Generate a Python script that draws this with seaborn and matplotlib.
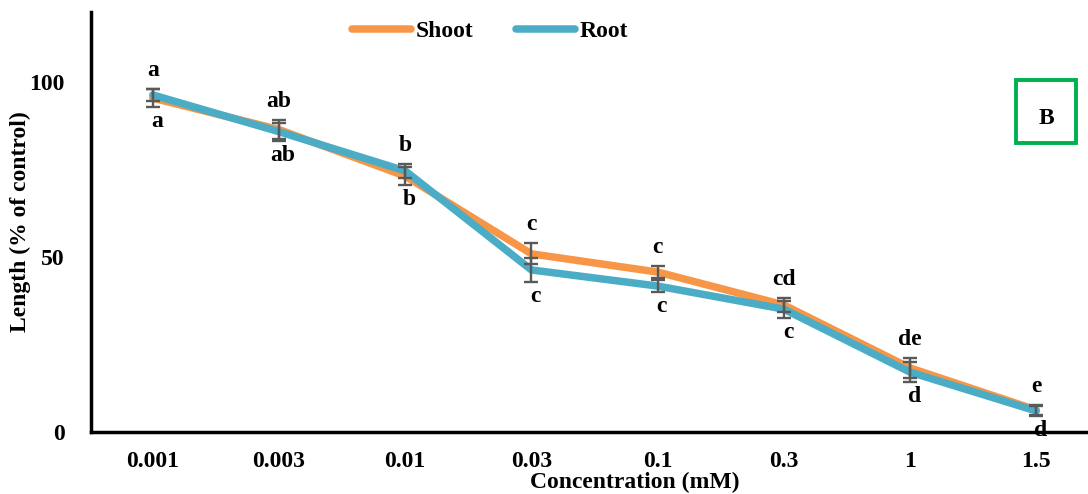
import matplotlib
matplotlib.use("Agg")
import matplotlib.pyplot as plt
import seaborn as sns
import pandas as pd
from matplotlib.patches import Rectangle

# Concentrations (mM) and relative lengths (% of control)
concentrations = ["0.001", "0.003", "0.01", "0.03", "0.1", "0.3", "1", "1.5"]
shoot = [95.4, 86.4, 73.1, 50.9, 45.7, 36.3, 18.3, 6.3]
root = [96.3, 85.8, 74.6, 46.3, 41.7, 35.1, 17.1, 6.0]
shoot_err = [2.6, 2.7, 2.6, 3.0, 1.7, 2.0, 2.8, 1.4]
root_err = [1.6, 2.6, 2.0, 3.5, 1.6, 2.4, 2.8, 1.4]
shoot_letters = ["a", "ab", "b", "c", "c", "cd", "de", "e"]
root_letters = ["a", "ab", "b", "c", "c", "c", "d", "d"]

sns.set_theme(style="white")
plt.rcParams["font.family"] = ["Liberation Serif", "DejaVu Serif"]
plt.rcParams["font.weight"] = "bold"
plt.rcParams["text.color"] = "black"
plt.rcParams["axes.labelcolor"] = "black"
plt.rcParams["xtick.color"] = "black"
plt.rcParams["ytick.color"] = "black"

df = pd.DataFrame({
    "Concentration": concentrations * 2,
    "Length": shoot + root,
    "Part": ["Shoot"] * len(shoot) + ["Root"] * len(root),
})

fig = plt.figure(figsize=(10.88, 4.94), dpi=100)
ax = fig.add_axes([91 / 1088, 62 / 494, 1 - 91 / 1088, 420 / 494])

palette = {"Shoot": "#F79646", "Root": "#4BACC6"}
sns.lineplot(data=df, x="Concentration", y="Length", hue="Part", palette=palette,
             linewidth=5.4, ax=ax, sort=False, legend=True,
             solid_capstyle="round", solid_joinstyle="round")

xs = list(range(len(concentrations)))
ax.errorbar(xs, shoot, yerr=shoot_err, fmt="none", ecolor="#595959",
            elinewidth=1.7, capsize=5, capthick=1.7, zorder=5)
ax.errorbar(xs, root, yerr=root_err, fmt="none", ecolor="#595959",
            elinewidth=1.7, capsize=5, capthick=1.7, zorder=5)

# Significance letters above and below each pair of points
for i in xs:
    top = max(shoot[i] + shoot_err[i], root[i] + root_err[i])
    bottom = min(shoot[i] - shoot_err[i], root[i] - root_err[i])
    ax.annotate(shoot_letters[i], (i, top), xytext=(0, 6), textcoords="offset points",
                ha="center", va="bottom", fontsize=17, fontweight="bold", color="black")
    ax.annotate(root_letters[i], (i, bottom), xytext=(3, -3), textcoords="offset points",
                ha="center", va="top", fontsize=17, fontweight="bold", color="black")

ax.set_xlim(-0.49, 7.41)
ax.set_ylim(0, 120)
ax.set_yticks([0, 50, 100])
ax.tick_params(axis="both", length=0, labelsize=17, labelcolor="black")
for lbl in ax.get_xticklabels() + ax.get_yticklabels():
    lbl.set_fontweight("bold")
ax.tick_params(axis="y", pad=19)
ax.tick_params(axis="x", pad=14)

for side in ["top", "right"]:
    ax.spines[side].set_visible(False)
for side in ["left", "bottom"]:
    ax.spines[side].set_color("black")
    ax.spines[side].set_linewidth(2.5)

ax.set_xlabel("")
ax.set_ylabel("")
fig.text(635 / 1088, 1 - 482 / 494, "Concentration (mM)", ha="center", va="center",
         fontsize=17, fontweight="bold", color="black")
fig.text(20 / 1088, 1 - 222 / 494, "Length (% of control)", ha="center", va="center",
         rotation=90, fontsize=17, fontweight="bold", color="black")

leg = ax.legend(loc="upper center", bbox_to_anchor=(0.40, 1.03), ncol=2, frameon=False,
                handlelength=2.5, handletextpad=0.2, columnspacing=1.8,
                prop={"weight": "bold", "size": 17})
for h in leg.get_lines():
    h.set_linewidth(5.4)
    h.set_solid_capstyle("round")
for t in leg.get_texts():
    t.set_color("black")

# Panel tag
ax.add_patch(Rectangle((1016 / 1088, 1 - 143 / 494), 60 / 1088, 63 / 494,
                       transform=fig.transFigure, fill=False, edgecolor="#00B050",
                       linewidth=2.8, clip_on=False))
fig.text(1046 / 1088, 1 - 118 / 494, "B", ha="center", va="center",
         fontsize=17, fontweight="bold", color="black")

fig.savefig("out.png", dpi=100)
